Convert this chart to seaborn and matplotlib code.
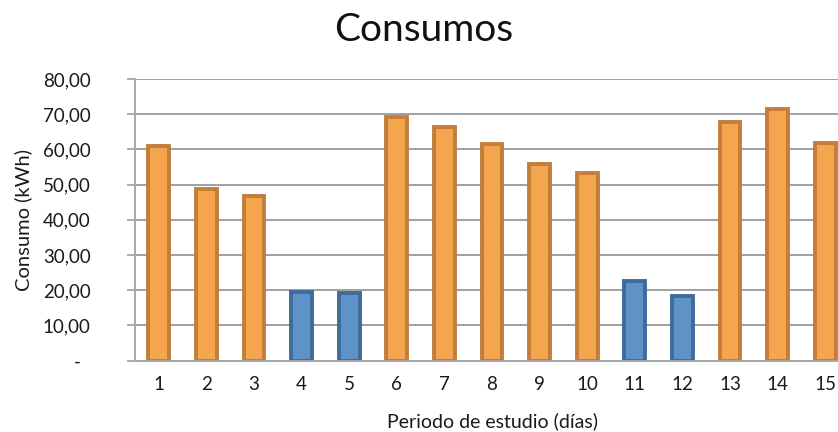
import matplotlib
matplotlib.use("Agg")
import matplotlib.pyplot as plt
import seaborn as sns
import pandas as pd

dias = [str(i) for i in range(1, 16)]
consumo = [61.0, 48.8, 46.8, 19.5, 19.2, 69.1, 66.3, 61.6, 55.9, 53.2, 22.6, 18.5, 67.7, 71.5, 61.8]
tipo = ["laborable", "laborable", "laborable", "festivo", "festivo",
        "laborable", "laborable", "laborable", "laborable", "laborable",
        "festivo", "festivo", "laborable", "laborable", "laborable"]
y_ticks = [0, 10, 20, 30, 40, 50, 60, 70, 80]
y_tick_labels = ["-  ", "10,00", "20,00", "30,00", "40,00", "50,00", "60,00", "70,00", "80,00"]

fills = {"laborable": "#F6A54F", "festivo": "#5F92C8"}
edges = {"laborable": "#C27E3A", "festivo": "#3F6B98"}

df = pd.DataFrame({"dia": dias, "consumo": consumo, "tipo": tipo})

sns.set_style("white")
plt.rcParams["font.family"] = ["Lato", "DejaVu Sans"]

fig = plt.figure(figsize=(8.38, 4.32), dpi=100)
ax = fig.add_axes([135 / 838, 1 - 360.7 / 432, (849 - 135) / 838, (360.7 - 79) / 432])

sns.barplot(data=df, x="dia", y="consumo", hue="tipo", order=dias,
            hue_order=["laborable", "festivo"], palette=fills, dodge=False,
            saturation=1, width=0.44, linewidth=2.8, legend=False, ax=ax)

for cont, lvl in zip(ax.containers, ["laborable", "festivo"]):
    for p in cont:
        p.set_edgecolor(edges[lvl])

ax.set_xlim(-0.5, 14.5)
ax.set_ylim(0, 80)
ax.set_yticks(y_ticks)
ax.set_yticklabels(y_tick_labels, fontsize=13.5, color="#1a1a1a")
ax.tick_params(axis="y", direction="out", length=6, width=1.2, color="#A0A0A0", pad=26, left=True)
ax.tick_params(axis="x", length=0, pad=11, labelsize=13.5, labelcolor="#1a1a1a")
ax.yaxis.grid(True, color="#A0A0A0", linewidth=1.4)
ax.set_axisbelow(True)
for s in ["top", "right"]:
    ax.spines[s].set_visible(False)
for s in ["left", "bottom"]:
    ax.spines[s].set_color("#A8A8A8")
    ax.spines[s].set_linewidth(1.4)

ax.set_xlabel("Periodo de estudio (días)", fontsize=14, color="#1a1a1a", labelpad=14)
ax.set_ylabel("Consumo (kWh)", fontsize=14.5, color="#1a1a1a")
ax.yaxis.set_label_coords(-0.144, 0.5)

fig.text(424 / 838, 1 - 30 / 432, "Consumos", ha="center", va="center", fontsize=28, color="#111111")

fig.savefig("out.png", dpi=100)
